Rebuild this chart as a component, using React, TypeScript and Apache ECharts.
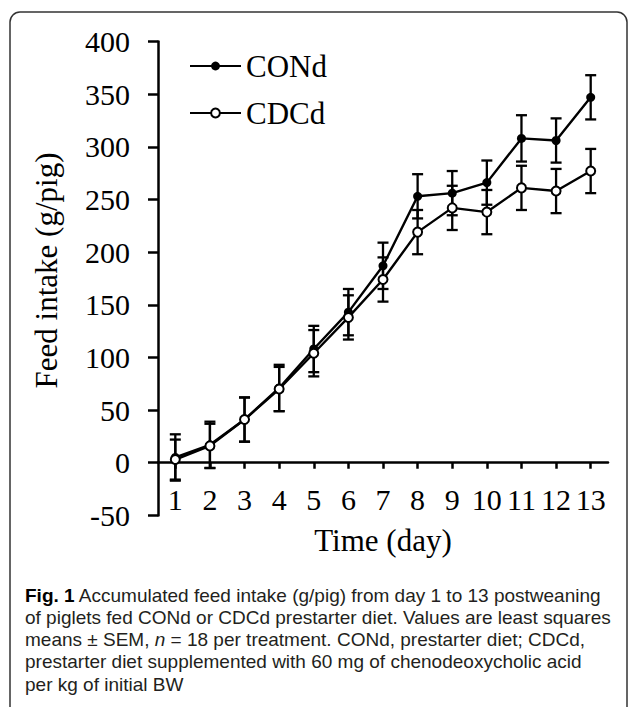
import React, { useEffect, useRef } from 'react';
import * as echarts from 'echarts';

const days = ['1', '2', '3', '4', '5', '6', '7', '8', '9', '10', '11', '12', '13'];
const condMeans = [5, 17, 41, 71, 108, 143, 187, 253, 256, 266, 308, 306, 347];
const condSem = [22, 22, 21, 22, 22, 22, 22, 21, 21, 21, 22, 21, 21];
const cdcdMeans = [3, 16, 41, 70, 104, 138, 174, 219, 242, 238, 261, 258, 277];
const cdcdSem = [19, 21, 21, 21, 22, 21, 21, 21, 21, 21, 21, 21, 21];
const yMin = -50;
const yMax = 400;
const yStep = 50;

const captionLines = [
  '{b|Fig. 1} Accumulated feed intake (g/pig) from day 1 to 13 postweaning',
  'of piglets fed CONd or CDCd prestarter diet. Values are least squares',
  'means ± SEM, {i|n} = 18 per treatment. CONd, prestarter diet; CDCd,',
  'prestarter diet supplemented with 60 mg of chenodeoxycholic acid',
  'per kg of initial BW',
];

export default function App() {
  const ref = useRef<HTMLDivElement>(null);
  useEffect(() => {
    const chart = echarts.init(ref.current!, null, { renderer: 'svg' });
    const serif = '"Liberation Serif", "Times New Roman", serif';
    const sans = '"Liberation Sans", Arial, sans-serif';
    const capSize = 19;
    const gridTop = 41.5;
    const gridBottom = 191.6;
    const gridHeight = 707 - gridTop - gridBottom;
    // move the x axis up from the grid bottom to the y = 0 line
    const zeroOffset = -gridHeight * (0 - yMin) / (yMax - yMin);
    const errData = (means: number[], sem: number[]) =>
      means.map((m, i) => [i, m - sem[i], m + sem[i]]);
    const renderErr = (params: any, api: any) => {
      const x = api.value(0);
      const lo = api.coord([x, api.value(1)]);
      const hi = api.coord([x, api.value(2)]);
      const w = 5.5;
      const style = { stroke: '#000', lineWidth: 2.3 };
      return {
        type: 'group',
        children: [
          { type: 'line', shape: { x1: lo[0], y1: lo[1], x2: hi[0], y2: hi[1] }, style },
          { type: 'line', shape: { x1: hi[0] - w, y1: hi[1], x2: hi[0] + w, y2: hi[1] }, style },
          { type: 'line', shape: { x1: lo[0] - w, y1: lo[1], x2: lo[0] + w, y2: lo[1] }, style },
        ],
      };
    };
    const captionTop = 595;
    const captionStep = 22.3;
    chart.setOption({
      animation: false,
      backgroundColor: '#fff',
      grid: { left: 158, right: 21, top: gridTop, bottom: gridBottom },
      legend: {
        data: ['CONd', 'CDCd'],
        orient: 'vertical',
        left: 189,
        top: 50.5,
        padding: 0,
        itemWidth: 51,
        itemHeight: 11,
        itemGap: 16,
        textStyle: { fontFamily: serif, fontSize: 31, color: '#000' },
      },
      xAxis: {
        type: 'category',
        data: days,
        boundaryGap: true,
        position: 'bottom',
        offset: zeroOffset,
        name: 'Time (day)',
        nameLocation: 'middle',
        nameGap: 62,
        nameTextStyle: { fontFamily: serif, fontSize: 31, color: '#000' },
        axisLine: { show: true, onZero: false, lineStyle: { color: '#000', width: 2.5 } },
        axisTick: {
          show: true,
          alignWithLabel: true,
          inside: false,
          length: 6,
          lineStyle: { color: '#000', width: 2.5 },
        },
        axisLabel: { fontFamily: serif, fontSize: 30, color: '#000', margin: 22, interval: 0 },
        splitLine: { show: false },
      },
      yAxis: {
        type: 'value',
        min: yMin,
        max: yMax,
        interval: yStep,
        name: 'Feed intake (g/pig)',
        nameLocation: 'middle',
        nameGap: 96,
        nameTextStyle: { fontFamily: serif, fontSize: 31, color: '#000', padding: [0, 0, 0, 16] },
        axisLine: { show: true, lineStyle: { color: '#000', width: 2.5 } },
        axisTick: { show: true, length: 10, lineStyle: { color: '#000', width: 2.5 } },
        axisLabel: { fontFamily: serif, fontSize: 30, color: '#000', margin: 28 },
        splitLine: { show: false },
      },
      series: [
        {
          name: 'CONd SEM',
          type: 'custom',
          data: errData(condMeans, condSem),
          encode: { x: 0, y: [1, 2] },
          renderItem: renderErr,
          z: 1,
          silent: true,
        },
        {
          name: 'CDCd SEM',
          type: 'custom',
          data: errData(cdcdMeans, cdcdSem),
          encode: { x: 0, y: [1, 2] },
          renderItem: renderErr,
          z: 1,
          silent: true,
        },
        {
          name: 'CONd',
          type: 'line',
          data: condMeans,
          symbol: 'circle',
          symbolSize: 9,
          lineStyle: { color: '#000', width: 2.4 },
          itemStyle: { color: '#000', borderColor: '#000', borderWidth: 0 },
          z: 3,
        },
        {
          name: 'CDCd',
          type: 'line',
          data: cdcdMeans,
          symbol: 'circle',
          symbolSize: 9,
          lineStyle: { color: '#000', width: 2.4 },
          itemStyle: { color: '#fff', borderColor: '#000', borderWidth: 2 },
          z: 3,
        },
      ],
      graphic: [
        {
          type: 'rect',
          shape: { x: 10, y: 12, width: 617, height: 720, r: 10 },
          style: { fill: 'none', stroke: '#333', lineWidth: 1.5 },
          silent: true,
          z: -1,
        },
        ...captionLines.map((t, i) => ({
          type: 'text',
          x: 25,
          y: captionTop + i * captionStep,
          style: {
            text: t,
            fontFamily: sans,
            fontSize: capSize,
            lineHeight: 20,
            fill: '#231f20',
            verticalAlign: 'middle',
            align: 'left',
            rich: {
              b: { fontFamily: sans, fontSize: capSize, lineHeight: 20, fontWeight: 'bold', fill: '#000' },
              i: { fontFamily: sans, fontSize: capSize, lineHeight: 20, fontStyle: 'italic', fill: '#231f20' },
            },
          },
          silent: true,
        })),
      ],
    });
    return () => chart.dispose();
  }, []);
  return (
    <div
      ref={ref}
      style={{ position: 'absolute', left: 0, top: 0, width: 629, height: 707, background: '#fff' }}
    />
  );
}
